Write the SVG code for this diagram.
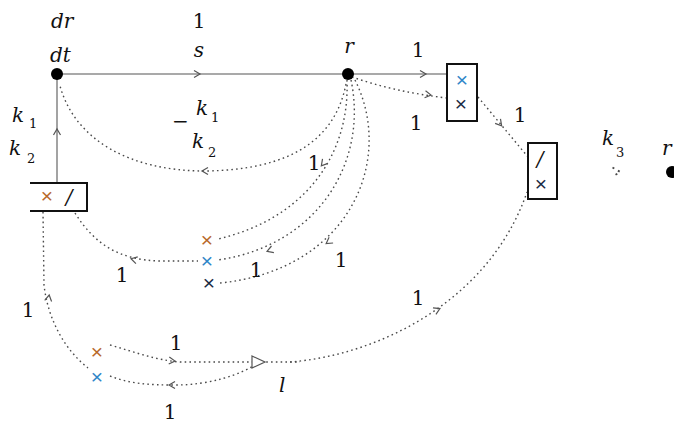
<svg xmlns="http://www.w3.org/2000/svg" width="674" height="425" viewBox="0 0 674 425">
<style>
text{font-family:"DejaVu Serif","Liberation Serif",serif;font-size:20px;fill:#111}
.v{font-style:italic}
.s{font-size:13px}
.c{text-anchor:middle}
.x{font-family:"Liberation Sans","DejaVu Sans",sans-serif;font-size:21px;dominant-baseline:central;text-anchor:middle}
.xb{fill:#2f86c8}
.xo{fill:#b8692a}
.xd{fill:#1a2a44}
.solid{fill:none;stroke:#8c8c8c;stroke-width:1.6}
.dot{fill:none;stroke:#4a4a4a;stroke-width:1.4;stroke-dasharray:1.6 3.2}
.box{fill:none;stroke:#111;stroke-width:2}
.ar{fill:none;stroke:#555;stroke-width:1.2}
</style>
<defs>
<path id="chev" d="M -5 -3.5 L 1 0 L -5 3.5"/>
</defs>
<g id="connectors">
<path class="solid" d="M 57 74 H 447"/>
<path class="solid" d="M 57 74 V 183"/>
<path class="dot" d="M 352 77 Q 395 92 447 98"/>
<path class="dot" d="M 478 97 L 528 157"/>
<path class="dot" d="M 346 84 C 335 140 290 170 205 171 C 130 171 75 140 60 86"/>
<path class="dot" d="M 347 80 C 350 160 300 220 218 239"/>
<path class="dot" d="M 351 80 C 368 160 320 245 218 260"/>
<path class="dot" d="M 355 80 C 395 160 350 270 220 283"/>
<path class="dot" d="M 75 213 C 95 245 120 260 160 261 L 198 261"/>
<path class="dot" d="M 43 212 L 44 285 C 48 320 65 350 88 368"/>
<path class="dot" d="M 110 345 C 135 352 155 360 180 362 L 300 362"/>
<path class="dot" d="M 110 376 C 130 384 150 385 175 385 C 210 385 240 375 258 363"/>
<path class="dot" d="M 290 362 C 380 355 490 300 527 192"/>
<use href="#chev" class="ar" transform="translate(199,74)"/>
<use href="#chev" class="ar" transform="translate(425,74)"/>
<use href="#chev" class="ar" transform="translate(430,95) rotate(8)"/>
<use href="#chev" class="ar" transform="translate(501,125) rotate(50)"/>
<use href="#chev" class="ar" transform="translate(57,130) rotate(-90)"/>
<use href="#chev" class="ar" transform="translate(203,171) rotate(180)"/>
<use href="#chev" class="ar" transform="translate(322,165) rotate(130)"/>
<use href="#chev" class="ar" transform="translate(268,251) rotate(160)"/>
<use href="#chev" class="ar" transform="translate(327,243) rotate(145)"/>
<use href="#chev" class="ar" transform="translate(132,259) rotate(195)"/>
<use href="#chev" class="ar" transform="translate(49,296) rotate(-80)"/>
<use href="#chev" class="ar" transform="translate(174,361) rotate(5)"/>
<use href="#chev" class="ar" transform="translate(170,385) rotate(180)"/>
<use href="#chev" class="ar" transform="translate(439,309) rotate(-25)"/>
<use href="#chev" class="dot" transform="translate(619,172) scale(1.3)"/>
<path d="M 252 356 L 265 362 L 252 368 Z" fill="#fff" stroke="#555" stroke-width="1.2"/>
</g>
<g id="node-drdt">
<circle cx="57" cy="74" r="6" fill="#000"/>
<text class="v" x="51" y="28">dr</text>
<text class="v" x="50" y="62">dt</text>
</g>
<g id="label-top">
<text class="c" x="199" y="28">1</text>
<text class="v c" x="199" y="57">s</text>
</g>
<g id="node-r">
<circle cx="348" cy="74" r="6" fill="#000"/>
<text class="v c" x="349" y="53">r</text>
</g>
<g id="box1">
<rect class="box" x="447" y="64" width="30" height="57"/>
<text class="x xb" x="462" y="79">×</text>
<text class="x xd" x="461" y="103">×</text>
</g>
<g id="box2">
<rect class="box" x="528" y="143" width="29" height="56"/>
<text class="v c" x="540" y="166">/</text>
<text class="x xd" x="541" y="183">×</text>
</g>
<g id="box3">
<path class="box" d="M 30 183 H 87 V 211 H 30"/>
<text class="x xo" x="47" y="195">×</text>
<text class="v c" x="69" y="204">/</text>
</g>
<g id="node-out">
<circle cx="672" cy="172" r="6" fill="#000"/>
<text class="v" x="662" y="155">r</text>
</g>
<g id="cross-mid">
<text class="x xo" x="207" y="239">×</text>
<text class="x xb" x="207" y="260">×</text>
<text class="x xd" x="209" y="282">×</text>
</g>
<g id="cross-low">
<text class="x xo" x="97" y="351">×</text>
<text class="x xb" x="97" y="376">×</text>
</g>
<g id="node-l">
<text class="v" x="279" y="392">l</text>
</g>
<g id="labels">
<text class="c" x="418" y="57">1</text>
<text class="c" x="416" y="130">1</text>
<text class="c" x="520" y="122">1</text>
<text class="v" x="602" y="145">k</text><text class="s" x="616" y="157">3</text>
<text class="v" x="12" y="122">k</text><text class="s" x="29" y="128">1</text>
<text class="v" x="9" y="155">k</text><text class="s" x="27" y="163">2</text>
<text x="172" y="128">−</text>
<text class="v" x="196" y="115">k</text><text class="s" x="211" y="122">1</text>
<text class="v" x="192" y="148">k</text><text class="s" x="208" y="157">2</text>
<text class="c" x="314" y="170">1</text>
<text class="c" x="256" y="277">1</text>
<text class="c" x="341" y="267">1</text>
<text class="c" x="122" y="282">1</text>
<text class="c" x="28" y="317">1</text>
<text class="c" x="176" y="350">1</text>
<text class="c" x="170" y="419">1</text>
<text class="c" x="418" y="305">1</text>
</g>
</svg>
